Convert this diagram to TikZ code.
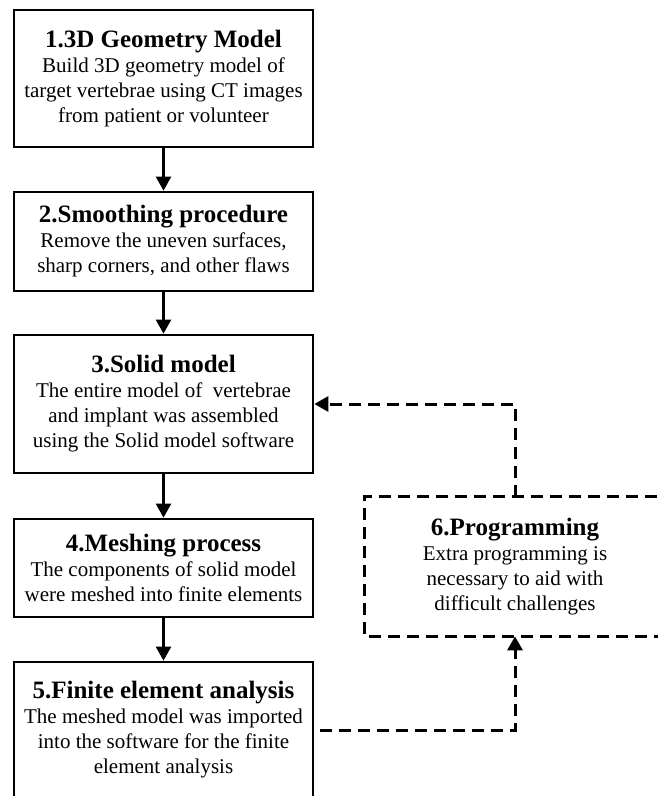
\documentclass[tikz,border=0pt]{standalone}
\usepackage{fontspec}
\setmainfont{Liberation Serif}
\usetikzlibrary{arrows.meta}
\newcommand{\ttl}[1]{{\bfseries\fontsize{25}{29}\selectfont #1}}
\begin{document}
\begin{tikzpicture}[x=1pt,y=-1pt,
  stepbox/.style={draw,line width=2.7pt,minimum width=299pt,inner sep=0pt,align=center,
    font=\fontsize{21}{25}\selectfont},
  flow/.style={line width=2.4pt,-{Triangle[length=14pt,width=15pt]}},
  fb/.style={line width=3pt,dash pattern=on 12pt off 7pt,-{Triangle[length=14pt,width=15pt]}}]
\useasboundingbox (0,0) rectangle (657,796);
\node[stepbox,minimum height=137pt] (b1) at (163.5,78.5) {\ttl{1.3D Geometry Model}\\Build 3D geometry model of\\target vertebrae using CT images\\from patient or volunteer};
\node[stepbox,minimum height=99pt] (b2) at (163.5,241.5) {\ttl{2.Smoothing procedure}\\Remove the uneven surfaces,\\sharp corners, and other flaws};
\node[stepbox,minimum height=138pt] (b3) at (163.5,404) {\ttl{3.Solid model}\\The entire model of\ \ vertebrae\\and implant was assembled\\using the Solid model software};
\node[stepbox,minimum height=98pt] (b4) at (163.5,568) {\ttl{4.Meshing process}\\The components of solid model\\were meshed into finite elements};
\node[stepbox,minimum height=160pt] (b5) at (163.5,742) {\ttl{5.Finite element analysis}\\The meshed model was imported\\into the software for the finite\\element analysis\\[4pt]\mbox{}};
\node[stepbox,draw=none,minimum height=137pt] (b6) at (515,566.5) {\ttl{6.Programming}\\Extra programming is\\necessary to aid with\\difficult challenges};
\draw[line width=3pt,dash pattern=on 12pt off 7pt] (b6.south east) -- (b6.south west) -- (b6.north west) -- (b6.north east);
\draw[flow] (b1) -- (b2);
\draw[flow] (b2) -- (b3);
\draw[flow] (b3) -- (b4);
\draw[flow] (b4) -- (b5);
\coordinate (p5) at (320,730);
\draw[fb] (b6.north) |- (b3.east);
\draw[fb] (p5) -| (b6.south);
\end{tikzpicture}
\end{document}
